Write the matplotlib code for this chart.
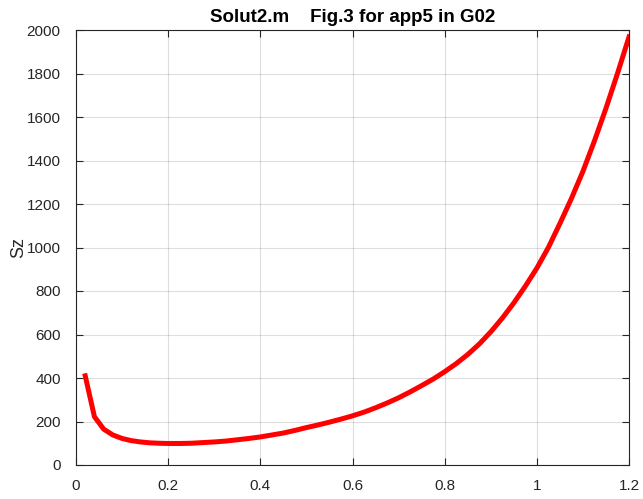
import matplotlib
matplotlib.use("Agg")
import matplotlib.pyplot as plt

plt.rcParams['font.family'] = ['Liberation Sans', 'DejaVu Sans']

# Sz versus x
x = [0.02, 0.04, 0.06, 0.08, 0.10, 0.12, 0.14, 0.16, 0.18, 0.200,
     0.225, 0.250, 0.275, 0.300, 0.325, 0.350, 0.375, 0.400, 0.425, 0.450,
     0.475, 0.500, 0.525, 0.550, 0.575, 0.600, 0.625, 0.650, 0.675, 0.700,
     0.725, 0.750, 0.775, 0.800, 0.825, 0.850, 0.875, 0.900, 0.925, 0.950,
     0.975, 1.000, 1.025, 1.050, 1.075, 1.100, 1.125, 1.150, 1.175, 1.200]
sz = [410, 222, 165, 138, 122, 112, 106, 102, 100, 99,
      99, 100, 103, 106, 110, 116, 122, 129, 138, 147,
      159, 172, 184, 197, 211, 226, 243, 263, 285, 309,
      336, 365, 395, 429, 466, 508, 556, 612, 675, 745,
      822, 905, 1000, 1110, 1225, 1350, 1490, 1640, 1800, 1968]

xticks = [0, 0.2, 0.4, 0.6, 0.8, 1, 1.2]
xticklabels = ['0', '0.2', '0.4', '0.6', '0.8', '1', '1.2']
yticks = list(range(0, 2001, 200))

ink = '#262626'

fig = plt.figure(figsize=(6.43, 4.99), dpi=100)
ax = fig.add_axes([76 / 643, 34 / 499, 553 / 643, 435 / 499])

ax.plot(x, sz, color='#ff0000', linewidth=3.6, solid_joinstyle='round')

ax.set_xlim(0, 1.2)
ax.set_ylim(0, 2000)
ax.set_xticks(xticks)
ax.set_xticklabels(xticklabels)
ax.set_yticks(yticks)

# box with inward ticks on every side, light grid
ax.grid(True, color='#000000', alpha=0.13, linewidth=0.8)
ax.tick_params(direction='in', top=True, right=True, length=5,
               width=0.8, colors=ink, labelsize=11)
ax.tick_params(axis='y', pad=11)
ax.tick_params(axis='x', pad=10)
for spine in ax.spines.values():
    spine.set_color(ink)
    spine.set_linewidth(0.8)

ax.set_ylabel('Sz', fontsize=13, color=ink, labelpad=0)
ax.set_title('Solut2.m    Fig.3 for app5 in G02', fontsize=13.5,
             fontweight='bold', color='black', pad=6)

fig.savefig('out.png', dpi=100)
